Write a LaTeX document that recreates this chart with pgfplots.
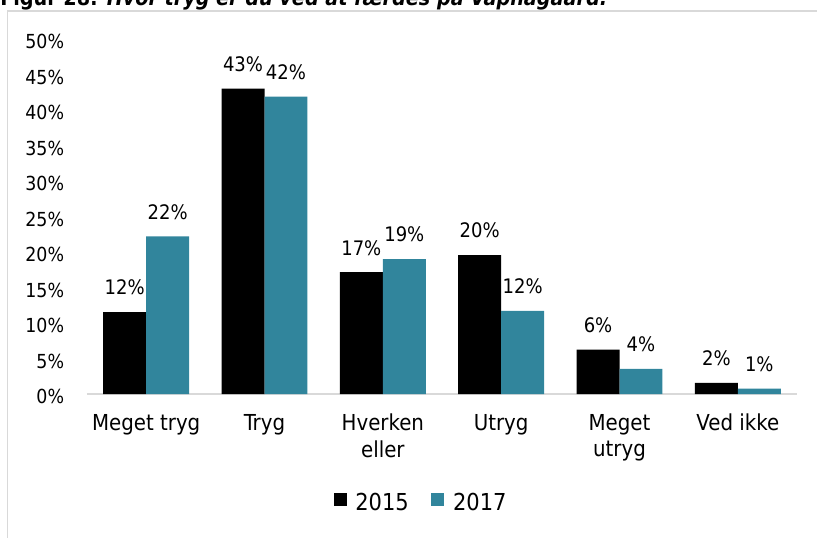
\documentclass[border=0pt]{standalone}
\usepackage{fontspec}
\setmainfont{DejaVu Sans Condensed}
\usepackage{pgfplots}
\pgfplotsset{compat=1.18}
\definecolor{tealbar}{HTML}{31859C}
\definecolor{framegray}{HTML}{D9D9D9}
\definecolor{axisgray}{HTML}{D9D9D9}

\begin{document}
\begin{tikzpicture}[x=1pt,y=1pt]
\useasboundingbox (0,0) rectangle (612.75,402.75);
\clip (0,0) rectangle (612.75,402.75);
\draw[framegray, line width=1.2pt] (5.6,-20) -- (5.6,394.5) -- (640,394.5);
\node[anchor=base west, inner sep=0pt, font=\fontsize{16}{19}\selectfont\bfseries] at (0,398.5) {Figur 28: \itshape Hvor tryg er du ved at færdes på Vapnagaard.};
\begin{axis}[
  at={(65.25pt,107.25pt)}, anchor=south west, scale only axis,
  width=532.5pt, height=266.25pt,
  xmin=-0.5, xmax=5.5, ymin=0, ymax=50,
  ybar=0pt, bar width=0.363,
  axis x line=bottom, axis y line=left,
  axis line style={-},
  x axis line style={axisgray, line width=1.1pt},
  y axis line style={draw=none},
  major tick length=0pt,
  ytick={0,5,...,50},
  yticklabel={\pgfmathprintnumber[assume math mode=true]{\tick}\%},
  yticklabel style={font=\fontsize{14.5}{17}\selectfont, inner sep=0pt, anchor=east, xshift=-17pt, yshift=-2pt},
  xtick={0,1,2,3,4,5},
  xticklabels={Meget tryg, Tryg, {Hverken\\eller}, Utryg, {Meget\\utryg}, Ved ikke},
  xticklabel style={font=\fontsize{16.5}{20}\selectfont, align=center, inner sep=0pt, anchor=north, yshift=-15pt},
  nodes near coords={\pgfmathprintnumber[fixed,precision=0,assume math mode=true]{\pgfplotspointmeta}\%},
  every node near coord/.append style={font=\fontsize{15}{18}\selectfont, inner sep=0pt, anchor=south, yshift=12.5pt, text=black},
  legend columns=2,
  legend style={draw=none, fill=none, at={(0.471,-0.307)}, anchor=center, font=\fontsize{17.5}{21}\selectfont, inner sep=0pt, column sep=4.5pt, /tikz/every even column/.append style={column sep=15pt}},
  legend image code/.code={\fill[#1] (0pt,-0.22em) rectangle (9.75pt,{9.5pt-0.22em});},
]
\addplot[fill=black, draw=none] coordinates {(0,11.55) (1,43.0) (2,17.15) (3,19.55) (4,6.25) (5,1.57)};
\addplot[fill=tealbar, draw=none] coordinates {(0,22.2) (1,41.9) (2,19.0) (3,11.7) (4,3.55) (5,0.77)};
\legend{2015,2017}
\end{axis}
\end{tikzpicture}
\end{document}
